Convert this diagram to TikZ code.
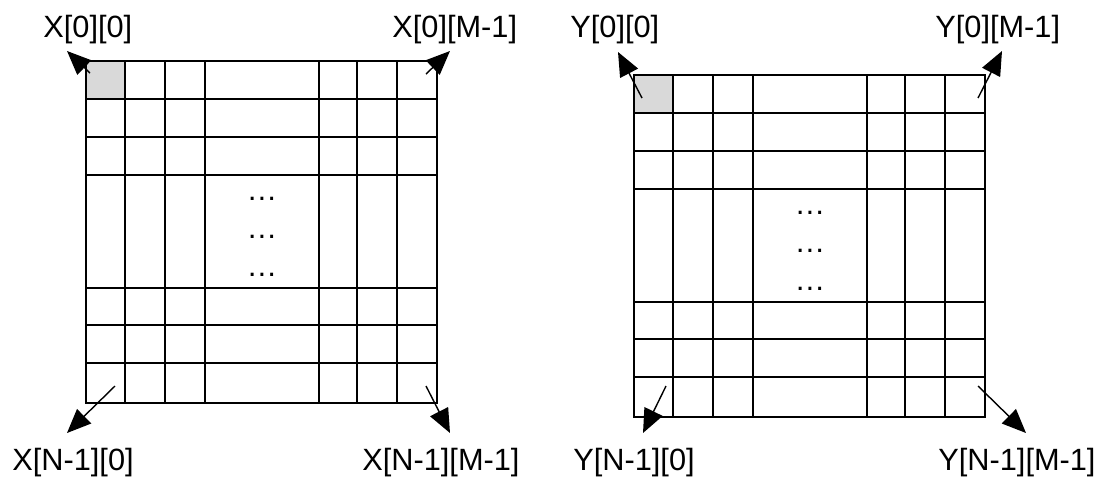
\documentclass[tikz,border=0pt]{standalone}
\usepackage{fontspec}
\setmainfont{Liberation Sans}
\usepackage{tikz}
\usetikzlibrary{arrows.meta,positioning}

\begin{document}
\begin{tikzpicture}[x=0.02cm,y=-0.02cm,
    gridline/.style={
        black,
        line width=0.9pt,
        line cap=rect
    },
    corner/.style={
        ->,
        >={Triangle[length=0.48cm,width=0.4cm]},
        black,
        line width=0.8pt
    },
    idx/.style={
        anchor=base west,
        inner sep=0pt,
        font=\fontsize{17.5}{20}\selectfont
    }
]
\path[use as bounding box] (0,0) rectangle (1111,478);

% two arrays, same cell layout, second one shifted
\foreach \dx/\dy/\arr in {0/0/X,548/14/Y}{
    \begin{scope}[shift={(\dx,\dy)}]
        \fill[gray!30] (86,61) rectangle (125,99);
        \foreach \x in {86,125,165,205,319,357,397,437}{
            \draw[gridline] (\x,61) -- (\x,403);
        }
        \foreach \y in {61,99,137,175,288,325,363,403}{
            \draw[gridline] (86,\y) -- (437,\y);
        }
        \foreach \y/\k in {200/a,238/b,276/c}{
            \node[anchor=base, inner sep=0pt,
                font=\fontsize{17.5}{20}\selectfont]
                (dots\arr\k) at (262,\y) {\ldots};
        }
    \end{scope}
}

% corner labels
\node[idx] (x00) at (43,37) {X[0][0]};
\node[idx] (x0m) at (392,37) {X[0][M-1]};
\node[idx] (xn0) at (12,470) {X[N-1][0]};
\node[idx] (xnm) at (362,470) {X[N-1][M-1]};
\node[idx] (y00) at (570,37) {Y[0][0]};
\node[idx] (y0m) at (935,37) {Y[0][M-1]};
\node[idx] (yn0) at (573,470) {Y[N-1][0]};
\node[idx] (ynm) at (938,470) {Y[N-1][M-1]};

% arrow ends
\coordinate (x00s) at (90,73);    \coordinate (x00t) at (67,51);
\coordinate (x0ms) at (426,74);   \coordinate (x0mt) at (450,51);
\coordinate (xn0s) at (115,386);  \coordinate (xn0t) at (67,433);
\coordinate (xnms) at (426,386);  \coordinate (xnmt) at (450,433);
\coordinate (y00s) at (642,98);   \coordinate (y00t) at (618,52);
\coordinate (y0ms) at (978,98);   \coordinate (y0mt) at (1002,51);
\coordinate (yn0s) at (666,386);  \coordinate (yn0t) at (643,433);
\coordinate (ynms) at (978,386);  \coordinate (ynmt) at (1026,433);

\foreach \c in {x00,x0m,xn0,xnm,y00,y0m,yn0,ynm}{
    \draw[corner] (\c s) -- (\c t);
}
\end{tikzpicture}
\end{document}
